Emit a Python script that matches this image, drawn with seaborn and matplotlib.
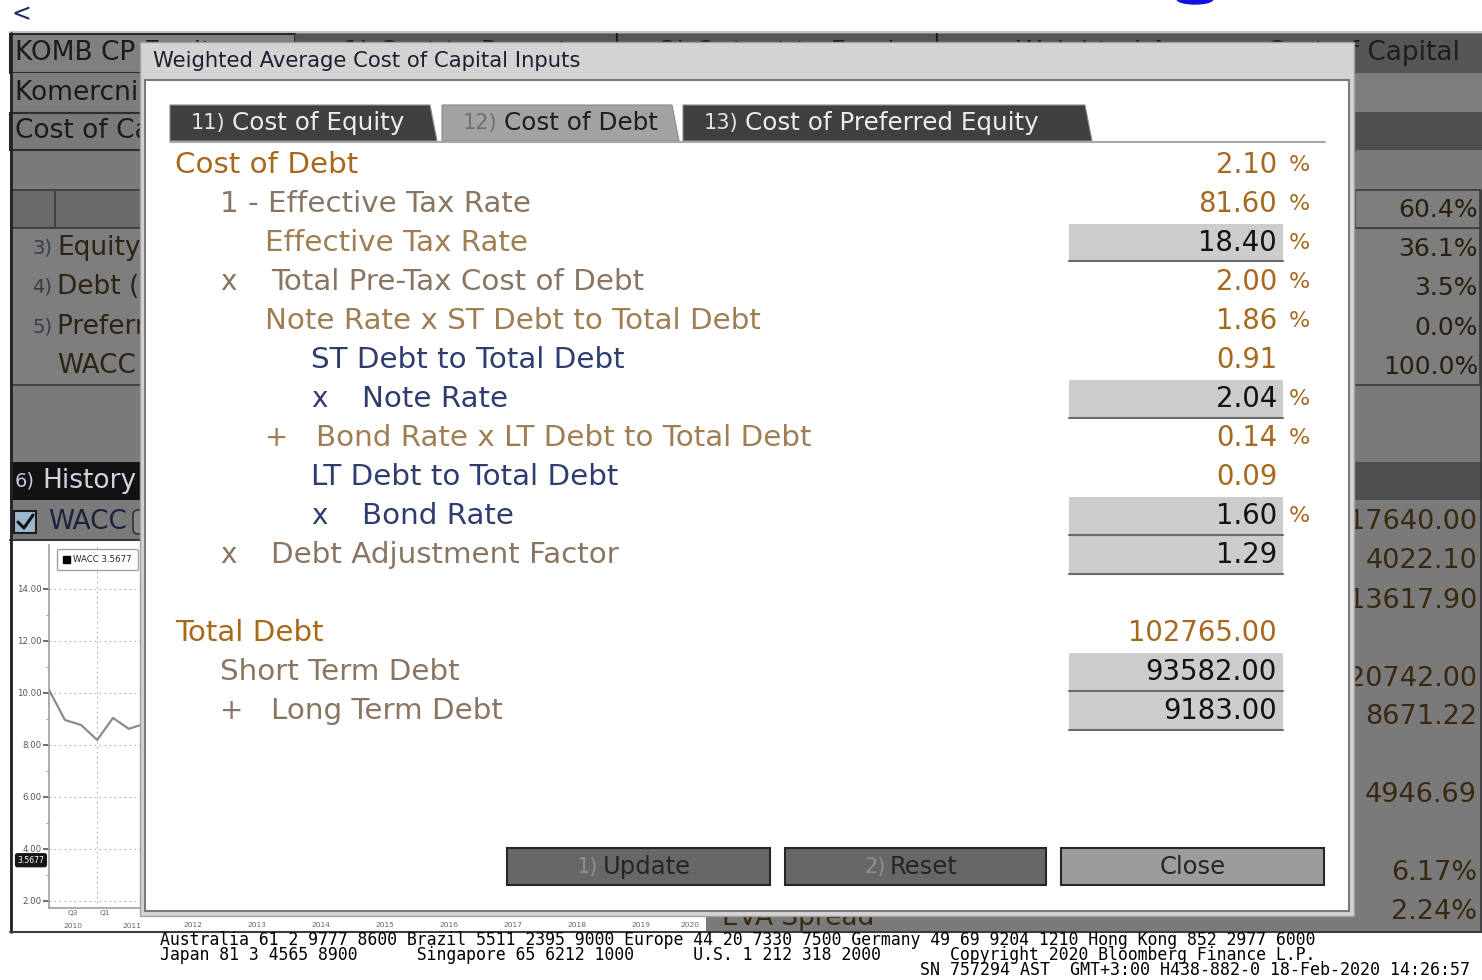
import numpy as np
import pandas as pd
import seaborn as sns
import matplotlib.pyplot as plt
import matplotlib.dates as mdates
from matplotlib.patches import Rectangle, Polygon, FancyBboxPatch, Ellipse, Patch
from matplotlib.transforms import blended_transform_factory
from matplotlib.ticker import NullFormatter, FixedLocator, FixedFormatter

W, H = 1482, 980

# ---- dialog data ----
tab_labels = ["11) Cost of Equity", "12) Cost of Debt", "13) Cost of Preferred Equity"]
debt_labels = ["Cost of Debt", "1 - Effective Tax Rate", "Effective Tax Rate",
               "Total Pre-Tax Cost of Debt", "Note Rate x ST Debt to Total Debt",
               "ST Debt to Total Debt", "Note Rate", "Bond Rate x LT Debt to Total Debt",
               "LT Debt to Total Debt", "Bond Rate", "Debt Adjustment Factor",
               "Total Debt", "Short Term Debt", "Long Term Debt"]
debt_ops = ["", "", "", "x", "", "", "x", "+", "", "x", "x", "", "", "+"]
debt_levels = [0, 1, 2, 1, 2, 3, 3, 2, 3, 3, 1, 0, 1, 1]
debt_values = ["2.10", "81.60", "18.40", "2.00", "1.86", "0.91", "2.04", "0.14",
               "0.09", "1.60", "1.29", "102765.00", "93582.00", "9183.00"]
debt_units = ["%", "%", "%", "%", "%", "", "%", "%", "", "%", "", "", "", ""]
debt_inputs = [False, False, True, False, False, False, True, False, False,
               True, True, False, True, True]
button_nums = ["1)", "2)", ""]
button_labels = ["Update", "Reset", "Close"]

# ---- background screen data ----
header_tabs = ["1) Cost to Report", "2) Output to Fund", "Weighted Average Cost of Capital"]
weight_labels = ["3) Equity", "4) Debt (After Tax)", "5) Preferred Equity", "WACC"]
weights = ["60.4%", "36.1%", "3.5%", "0.0%", "100.0%"]
side_values = ["17640.00", "4022.10", "13617.90", "20742.00", "8671.22",
               "4946.69", "6.17%", "2.24%"]

# ---- WACC history (visible part) ----
wacc_dates = ["2010-04-01", "2010-07-01", "2010-10-01", "2011-01-01",
              "2011-04-01", "2011-07-01", "2011-10-01"]
wacc_values = [10.12, 8.96, 8.77, 8.19, 9.04, 8.62, 8.82]
wacc_last = 3.5677
year_labels = [str(y) for y in range(2012, 2021)]

footer_lines = [
    "Australia 61 2 9777 8600 Brazil 5511 2395 9000 Europe 44 20 7330 7500 Germany 49 69 9204 1210 Hong Kong 852 2977 6000",
    "Japan 81 3 4565 8900      Singapore 65 6212 1000      U.S. 1 212 318 2000       Copyright 2020 Bloomberg Finance L.P.",
]
footer_sn = "SN 757294 AST  GMT+3:00 H438-882-0 18-Feb-2020 14:26:57"

sns.set_style("white")
plt.rcParams['font.family'] = ['DejaVu Sans']

fig = plt.figure(figsize=(W / 100, H / 100), dpi=100)
fig.patch.set_facecolor('white')
renderer = fig.canvas.get_renderer()


def px_axes(z):
    ax = fig.add_axes([0, 0, 1, 1], zorder=z)
    ax.set_xlim(0, W)
    ax.set_ylim(H, 0)
    ax.axis('off')
    ax.patch.set_alpha(0)
    return ax


def box(ax, x0, y0, x1, y1, fc, ec='none', lw=0, z=1):
    ax.add_patch(Rectangle((x0, y0), x1 - x0, y1 - y0, facecolor=fc,
                           edgecolor=ec, linewidth=lw, zorder=z))


def txt(ax, x, y, s, size, color, ha='left', z=5, va='center', **kw):
    return ax.text(x, y, s, fontsize=size, color=color, ha=ha, va=va,
                   zorder=z, **kw)


def width_px(t):
    return t.get_window_extent(renderer).width


bg = px_axes(0)
chart = fig.add_axes([49 / W, 1 - 908 / H, (706 - 49) / W, (908 - 545) / H], zorder=1)
top = px_axes(2)

# ================= background terminal screen =================
txt(bg, 12, 14, "<", 17, '#1d2b5e')
bg.add_patch(Ellipse((1195, -1), 36, 10, color='#1010e0', zorder=2))

box(bg, 10, 32, W, 932, '#7a7a7a', z=0)
bg.plot([10, W], [32.5, 32.5], color='#c4c4c4', lw=1.5, zorder=1)
# header row
box(bg, 10, 34, 295, 73, '#808080', ec='#2b2b2b', lw=1.5)
txt(bg, 15, 53, "KOMB CP Equity", 19, '#1e1a18')
box(bg, 295, 34, W, 73, '#565656')
for xs in [617, 937]:
    bg.plot([xs, xs], [34, 73], color='#1e1e1e', lw=1.5, zorder=2)
peek = Rectangle((295, 33), W - 295, 9, transform=bg.transData)
for (x0, x1), lab in zip([(295, 617), (617, 937), (937, W)], header_tabs):
    t = txt(bg, (x0 + x1) / 2 if x1 < W else 1460, 53, lab, 19, '#1e1e1e',
            ha='center' if x1 < W else 'right')
    if x1 < W:
        t.set_clip_path(peek)
# row 2 / row 3
box(bg, 10, 73, W, 112, '#7d7d7d')
txt(bg, 15, 93, "Komercni Banka AS", 19, '#1e1a18')
box(bg, 10, 113, 1355, 150, '#7a7a7a', ec='#2e2e2e', lw=1.5)
txt(bg, 15, 131, "Cost of Capital", 19, '#1e1a18')
box(bg, 1355, 112, W, 150, '#4e4e4e')
# weights table
box(bg, 11, 190, 700, 228, '#6a6a6a', ec='#3a3a3a', lw=1.2)
bg.plot([55, 55], [190, 228], color='#444444', lw=1.5, zorder=2)
box(bg, 11, 228, 1480, 385, '#7e7e7e', ec='#3a3a3a', lw=1.2)
box(bg, 1355, 190, 1480, 228, '#7e7e7e', ec='#3a3a3a', lw=1.2)
for i, lab in enumerate(weight_labels):
    y = 248 + 39.3 * i
    if lab[0].isdigit():
        num, rest = lab.split(' ', 1)
        txt(bg, 32, y, num, 14, '#3c3c48')
        txt(bg, 57, y, rest, 19, '#2e2414')
    else:
        txt(bg, 57, y, lab, 19, '#2e2414')
for i, v in enumerate(weights):
    txt(bg, 1478, 210 + 39.2 * i, v, 18, '#2a2010', ha='right')
# history row
box(bg, 10, 462, 1355, 500, '#121212')
box(bg, 1355, 462, W, 500, '#4e4e4e')
txt(bg, 15, 481, "6)", 14, '#c8c8d8')
txt(bg, 42, 481, "History", 19, '#d2d2e2')
# WACC checkbox row
box(bg, 14, 511, 36, 533, '#9db6d2', ec='#1c1c1c', lw=1.5, z=2)
bg.plot([18, 24, 33], [522, 528, 515], color='#111111', lw=2.2, zorder=3)
txt(bg, 48, 522, "WACC", 19, '#1c2340')
bg.add_patch(FancyBboxPatch((133, 510), 40, 24, boxstyle='round,pad=0,rounding_size=5',
                            fc='#8a8a8a', ec='#333333', lw=1.2, zorder=2))
# chart panel
box(bg, 12, 541, 706, 931, 'white', z=1)
bg.plot([10, 706], [540, 540], color='#3a3a3a', lw=1.5, zorder=2)
bg.plot([11, 11], [33, 932], color='#222222', lw=2, zorder=3)
bg.plot([10, W], [931.5, 931.5], color='#3c3c3c', lw=1.5, zorder=3)
bg.plot([1480.5, 1480.5], [190, 931], color='#3a3a3a', lw=1.2, zorder=2)
side_y = [522, 561, 601, 679, 717, 795, 873, 912]
for v, y in zip(side_values, side_y):
    txt(bg, 1477, y, v, 19.5, '#3a2810', ha='right')
txt(bg, 722, 925, "EVA Spread", 19, '#3a2810', va='baseline')

# footer
for i, line in enumerate(footer_lines):
    txt(bg, 160, 940 + 15 * i, line, 11.9, 'black', family='DejaVu Sans Mono')
txt(bg, 920, 970, footer_sn, 12, 'black', family='DejaVu Sans Mono')

# ================= WACC history chart =================
wacc = pd.DataFrame({"date": pd.to_datetime(wacc_dates), "wacc": wacc_values})
sns.lineplot(data=wacc, x="date", y="wacc", ax=chart, color='#8c8c8c', lw=1.6)
chart.set_facecolor('white')
chart.set_xlim(pd.Timestamp("2010-04-01"), pd.Timestamp("2020-07-07"))
chart.set_ylim(1.73, 15.69)
chart.set_xlabel("")
chart.set_ylabel("")
yt = np.arange(2, 15, 2)
chart.set_yticks(yt)
chart.set_yticklabels([f"{v:.2f}" for v in yt])
chart.yaxis.set_minor_locator(FixedLocator(np.arange(3, 15, 2)))
year_starts = pd.to_datetime([f"{y}-01-01" for y in range(2011, 2021)])
chart.set_xticks(year_starts)
chart.xaxis.set_major_formatter(NullFormatter())
mids = list(pd.to_datetime([f"{y}-07-02" for y in range(2012, 2020)])) + [pd.Timestamp("2020-04-05")]
chart.xaxis.set_minor_locator(FixedLocator(mdates.date2num(mids)))
chart.xaxis.set_minor_formatter(FixedFormatter(year_labels))
chart.tick_params(axis='x', which='major', length=12, width=0.8, color='#c4c4c4')
chart.tick_params(axis='x', which='minor', length=0, pad=10, labelsize=5.4, labelcolor='#666666')
chart.tick_params(axis='y', which='major', length=4, width=1.2, color='#555555', pad=1.5,
                  labelsize=6.2, labelcolor='#555555', left=True)
chart.tick_params(axis='y', which='minor', length=2, color='#888888', left=True)
chart.grid(axis='y', which='major', linestyle=(0, (1.5, 3)), color='#b0b0b0', lw=0.8)
chart.grid(axis='x', which='major', linestyle=(0, (1.5, 3)), color='#b0b0b0', lw=0.8)
for s in ['top', 'right']:
    chart.spines[s].set_visible(False)
for s in ['left', 'bottom']:
    chart.spines[s].set_color('#a0a0a0')
    chart.spines[s].set_linewidth(1.2)
bt = blended_transform_factory(chart.transData, chart.transAxes)
for d, q in [("2010-08-15", "Q3"), ("2011-02-14", "Q1")]:
    chart.text(mdates.date2num(pd.Timestamp(d)), -0.005, q, transform=bt, ha='center',
               va='top', fontsize=5.4, color='#666666')
chart.text(mdates.date2num(pd.Timestamp("2010-08-15")), -0.04, "2010", transform=bt,
           ha='center', va='top', fontsize=5.4, color='#666666')
chart.text(mdates.date2num(pd.Timestamp("2011-07-20")), -0.04, "2011", transform=bt,
           ha='center', va='top', fontsize=5.4, color='#666666')
tb = blended_transform_factory(chart.transAxes, chart.transData)
chart.text(-0.007, wacc_last, f"{wacc_last:.4f}", transform=tb, ha='right', va='center',
           fontsize=5.6, color='white', zorder=6, clip_on=False,
           bbox=dict(boxstyle='round,pad=0.25', fc='#151515', ec='#151515'))
chart.legend(handles=[Patch(facecolor='black', edgecolor='black')],
             labels=[f"WACC {wacc_last:.4f}"], loc='upper left',
             bbox_to_anchor=(0.005, 1.0), fontsize=6.2, frameon=True, fancybox=True,
             edgecolor='#a0a0a0', handlelength=0.8, handleheight=0.8,
             borderpad=0.7, handletextpad=0.4, framealpha=1)

# ================= dialog =================
box(top, 140, 42, 1354, 916, '#d3d3d3', ec='#a0a0a0', lw=1)
txt(top, 153, 61, "Weighted Average Cost of Capital Inputs", 15.2, '#1e1e30')
box(top, 145, 80, 1349, 911, 'white', ec='#7a7a7a', lw=1.5)

tab_spans = [(170, 430), (442, 672), (683, 1085)]
for k, ((x0, x1), lab) in enumerate(zip(tab_spans, tab_labels)):
    active = (k == 1)
    fc = '#a2a2a2' if active else '#404040'
    top.add_patch(Polygon([(x0, 141), (x0, 105), (x1, 105), (x1 + 7, 141)],
                          closed=True, fc=fc, ec='#8a8a8a', lw=0.8, zorder=3))
    num, rest = lab.split(' ', 1)
    tc = '#1e1e1e' if active else '#ececec'
    t = txt(top, x0 + 21, 123, num, 15, '#707070' if active else '#e4e4e4')
    txt(top, x0 + 21 + width_px(t) + 6, 123, rest, 17.7, tc)
top.plot([170, 1325], [142, 142], color='#a8a8a8', lw=1.5, zorder=3)

level_x = [175, 220, 265, 311]
label_colors = ['#a8681a', '#8a7562', '#9e7e52', '#2f3d6e']
val_color = '#a6691f'
for i, lab in enumerate(debt_labels):
    slot = i if i <= 10 else i + 1
    y = 165 + 39 * slot
    lvl = debt_levels[i]
    x = level_x[lvl]
    c = label_colors[lvl]
    if debt_ops[i]:
        txt(top, x, y, debt_ops[i], 20, c)
        txt(top, x + 51, y, lab, 21.2, c)
    else:
        txt(top, x, y, lab, 21.2, c)
    if debt_inputs[i]:
        box(top, 1069, y - 19, 1283, y + 18, '#cccccc', z=3)
        top.plot([1069, 1283], [y + 18.5, y + 18.5], color='#6a6a6a', lw=1.5, zorder=4)
        vc = '#121212'
    else:
        vc = val_color
    txt(top, 1277, y, debt_values[i], 19.8, vc, ha='right')
    if debt_units[i]:
        txt(top, 1289, y, debt_units[i], 16, val_color)

btn_spans = [(507, 770), (785, 1046), (1061, 1324)]
btn_fill = ['#676767', '#676767', '#9c9c9c']
for (x0, x1), num, lab, fc in zip(btn_spans, button_nums, button_labels, btn_fill):
    box(top, x0, 848, x1, 885, fc, ec='#262626', lw=1.5, z=3)
    cx = (x0 + x1) / 2 + (8 if num else 0)
    t = txt(top, cx, 867, lab, 17.5, '#262626', ha='center')
    if num:
        txt(top, cx - width_px(t) / 2 - 4, 867, num, 15, '#8e8e8e', ha='right')

fig.savefig("out.png", dpi=100, facecolor='white')
